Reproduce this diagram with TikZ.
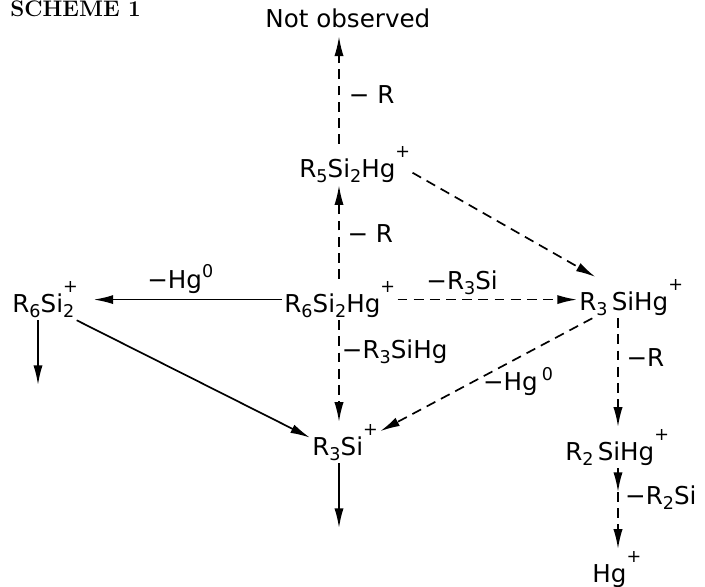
\documentclass[tikz,border=0pt]{standalone}
\usepackage{fontspec}
\newfontfamily\chemfont{DejaVu Sans}
\usetikzlibrary{arrows.meta, positioning, calc}

\newcommand{\lo}[1]{\raisebox{-4pt}{\fontsize{12.5}{12.5}\selectfont #1}}
\newcommand{\hi}[2][14pt]{\raisebox{#1}{\fontsize{12.5}{12.5}\selectfont #2}}

\begin{document}
\begin{tikzpicture}[
  species/.style={inner sep=1.5pt, anchor=base west, font=\chemfont\fontsize{17.5}{20}\selectfont},
  lbl/.style={inner sep=1.5pt, font=\chemfont\fontsize{17.5}{20}\selectfont},
  arr/.style={-{Latex[length=14pt, width=6.5pt]}, line width=1.2pt},
  darr/.style={arr, dash pattern=on 7pt off 4.5pt},
]
\useasboundingbox (0,0) rectangle (17.625,14.65);

% Columns
\coordinate (colL) at (0.95, 0);
\coordinate (colM) at (8.475, 0);
\coordinate (colR) at (15.45, 0);

% Species
\node[anchor=base west, inner sep=0pt, font=\bfseries\fontsize{16}{18}\selectfont] (title) at (0.25, 14.225) {SCHEME 1};
\node[species] (notobs) at (6.575, 13.95) {Not observed};
\node[species] (r5si2hg) at (7.425, 10.225) {R\lo{5}Si\lo{2}Hg\hi{+}};
\node[species] (r6si2hg) at (7.05, 6.85) {R\lo{6}Si\lo{2}Hg\hi{+}};
\node[species] (r6si2) at (0.25, 6.85) {R\lo{6}Si\rlap{\hi{+}}\lo{2}};
\node[species] (r3sihg) at (14.425, 6.9) {R\lo{3}\,SiHg\hi{+}};
\node[species] (r3si) at (7.75, 3.275) {R\lo{3}Si\hi{+}};
\node[species] (r2sihg) at (14.075, 3.15) {R\lo{2}\,SiHg\hi{+}};
\node[species] (hgp) at (14.75, 0.1) {Hg\hi{+}};

% Free ends
\coordinate (r6si2end) at (0.95, 5.025);
\coordinate (r3siend) at (8.475, 1.45);
\coordinate (midR) at (15.45, 2.35);

% Transitions
\draw[arr] (r6si2hg.west) -- node[lbl, above=2pt, pos=0.54] {−Hg\hi[8pt]{0}} ([xshift=12pt]r6si2.east |- r6si2hg.west);
\draw[darr] (r6si2hg.east) -- node[lbl, above=1pt, pos=0.36] {−R\lo{3}Si} (r3sihg.west |- r6si2hg.east);
\draw[darr] (r6si2hg.north -| colM) -- node[lbl, right=4pt, pos=0.48] {− R} (r5si2hg.south -| colM);
\draw[darr, shorten >=4pt] (r5si2hg.north -| colM) -- node[lbl, right=5pt, pos=0.44] {− R} (notobs.south -| colM);
\draw[darr] (r5si2hg.-8) -- (r3sihg.150);
\draw[darr] (r6si2hg.south -| colM) -- node[lbl, right=0pt, pos=0.31] {−R\lo{3}SiHg} (r3si.north -| colM);
\draw[darr] (r3sihg.208) -- node[lbl, below=5pt, pos=0.35] {−Hg\,\hi[7pt]{0}} (r3si.18);
\draw[darr] (r3sihg.south -| colR) -- node[lbl, right=4pt, pos=0.36] {−R} (r2sihg.north -| colR);
\draw[darr] (r2sihg.south -| colR) -- (midR);
\draw[darr] (midR) -- node[lbl, right=3pt, pos=0.1] {−R\lo{2}Si} (hgp.north -| colR);
\draw[arr] (r6si2.south -| colL) -- (r6si2end);
\draw[arr] (r6si2.south east) -- (r3si.172);
\draw[arr] (r3si.south -| colM) -- (r3siend);

\end{tikzpicture}
\end{document}
